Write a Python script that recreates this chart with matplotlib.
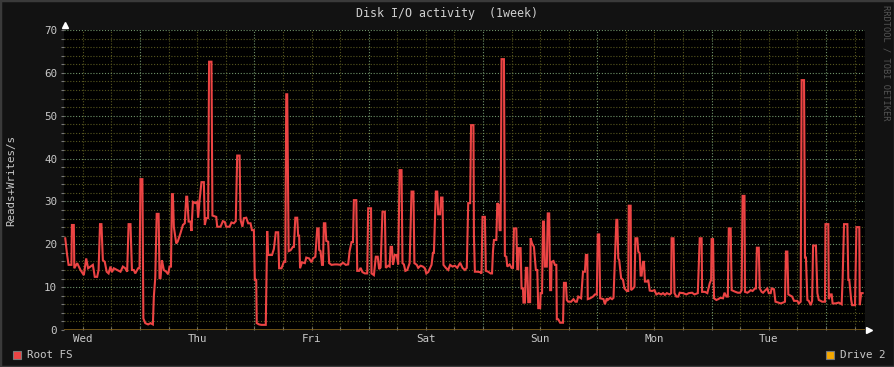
import matplotlib
matplotlib.use("Agg")
import matplotlib.pyplot as plt
from matplotlib.patches import Rectangle

# Disk I/O, Root FS, hours counted from Wed 00:00
hours = [
    8.3, 8.7, 9.0, 9.6, 9.7, 10.1, 10.2, 10.8, 11.5, 12.2, 12.7, 13.1, 13.6, 14.1, 14.5, 15.0,
    15.3, 15.6, 15.9, 16.2, 16.6, 17.0, 17.4, 17.8, 18.1, 18.5, 19.2, 19.9, 20.4, 20.9, 21.3,
    21.6, 22.0, 22.3, 22.7, 23.0, 23.6, 23.9, 24.1, 24.5, 24.7, 25.1, 25.7, 26.2, 26.7, 26.9,
    27.2, 27.5, 27.9, 28.1, 28.3, 28.6, 29.0, 29.5, 29.9, 30.2, 30.5, 30.7, 30.9, 31.1, 31.6,
    31.9, 32.5, 33.0, 33.4, 33.7, 33.9, 34.2, 34.6, 34.8, 35.1, 35.6, 36.0,
    36.2, 36.5, 36.9, 37.4, 37.6, 37.9, 38.3, 38.5, 39.0, 39.2, 39.7, 40.0, 40.2, 40.9, 41.4,
    41.8, 42.1, 42.8, 43.2, 43.7, 44.1, 44.4, 44.9, 45.1, 45.5, 45.8, 46.3, 46.7, 47.2, 47.5,
    47.9, 48.1, 48.4, 48.5, 49.0, 49.5, 50.4, 50.7, 50.9, 51.7, 52.1, 52.5, 53.0, 53.2, 53.7,
    54.2, 54.5, 54.7, 54.9, 55.2, 55.6, 56.1, 56.3, 56.6, 57.0, 57.2, 57.4, 57.6, 58.0, 58.6,
    58.9, 59.5, 60.0, 60.3, 60.8, 61.2, 61.5, 61.6, 61.9, 62.2, 62.4, 62.6, 62.9, 63.1, 63.5,
    63.7, 64.2, 64.9,
    65.4, 66.1, 66.6, 67.2, 67.7, 68.0, 68.4, 68.7, 68.9, 69.4, 69.6, 70.0, 70.3, 70.7, 71.2,
    71.7, 71.9, 72.5, 72.6, 73.1, 73.5, 73.9, 74.2, 74.5, 74.9, 75.4, 75.6, 76.1, 76.4, 76.6,
    76.9, 77.1, 77.5, 77.9, 78.2, 78.5, 78.9, 79.1, 79.4, 79.7, 80.1, 80.6, 81.0, 81.4, 81.6,
    82.1, 82.4, 82.9, 83.4, 83.8, 84.1, 84.5, 84.9, 85.2, 85.5, 85.7, 86.1, 86.4, 86.6, 87.0,
    87.2, 87.5, 87.7, 88.2, 88.7, 89.1, 89.6, 90.1, 90.6, 91.2, 91.7, 92.2, 92.6, 92.9, 93.3,
    93.5, 94.0, 94.1, 94.3, 94.8, 95.4, 95.7, 95.9, 96.4, 96.6, 97.1, 97.6, 97.9, 98.1, 98.3,
    98.8, 99.0, 99.3, 99.5, 99.7, 99.9, 100.4, 100.6, 100.9, 101.1, 101.6, 102.0, 102.3, 102.5,
    103.0, 103.2, 103.4, 103.5, 103.9, 104.1, 104.4, 104.5, 104.8, 105.0, 105.3, 105.5, 105.9,
    106.0, 106.3, 106.7, 107.1, 107.4, 107.6, 108.0, 108.1, 108.4, 108.6, 108.8, 109.0, 109.4,
    109.6, 109.9, 110.1, 110.3, 110.4, 110.8, 111.1, 111.4, 111.5, 111.8, 112.2, 112.8, 113.0,
    113.4, 113.6, 113.9, 114.5, 115.0, 115.4, 115.7, 116.0, 116.6, 117.0, 117.4, 117.6, 117.9,
    118.0, 118.5, 119.1, 119.5, 119.9, 120.1, 120.4, 120.6, 121.3, 121.6, 122.0,
    122.2, 122.7, 123.1, 123.4, 124.0, 124.2, 124.4, 124.6, 125.0, 125.4, 125.7, 126.2, 126.5,
    126.6, 127.0, 127.1, 127.5, 127.8, 128.0, 128.4, 128.6, 128.9, 129.1, 129.3, 129.6, 129.8,
    130.0, 130.4, 130.7, 131.0, 131.5, 132.0, 132.4, 132.9, 133.4, 133.8, 134.2, 134.6, 135.2,
    135.5, 135.6, 136.0, 136.2, 136.6, 137.0, 137.3, 138.0, 138.7, 139.2, 139.9, 140.4, 141.1,
    141.5, 141.9, 142.0, 142.6, 143.1, 143.6, 143.9, 144.0, 144.3, 144.5, 145.0, 145.4, 145.8,
    146.4, 146.7, 147.1, 147.4, 147.6, 148.0, 148.2, 148.6, 149.0, 149.5, 150.0, 150.3, 150.5,
    150.9, 151.0, 151.5, 151.8, 152.2, 152.6, 153.1, 153.3, 153.5, 153.9, 154.1, 154.5, 154.8,
    155.3, 155.7, 156.0, 156.4, 156.6, 157.1, 157.4, 158.0, 158.5, 159.0, 159.4, 159.6, 159.9,
    160.1, 160.6, 160.9, 161.3, 162.0, 162.3, 162.7, 162.9, 163.4, 163.6, 163.8, 164.1, 164.4,
    164.8, 165.1, 165.3, 165.9, 166.2, 166.5, 166.9, 167.2, 167.8, 167.9, 168.5, 168.6, 168.9,
    169.2, 169.4, 170.0, 170.7, 171.3, 171.5, 171.8, 172.5, 172.7, 172.9, 173.3, 173.5, 174.1,
    174.4, 175.0, 175.1, 175.4, 175.7,
]
root_fs = [
    21.4, 17.5, 15.2, 15.2, 24.5, 24.5, 14.4, 15.6, 14.0, 12.8, 16.7, 14.4, 14.8, 15.2, 12.4, 12.4,
    14.0, 24.7, 24.7, 16.3, 15.9, 13.6, 13.2, 14.8, 13.5, 14.4, 14.0, 13.6, 14.8, 14.4, 13.6,
    24.7, 24.7, 14.0, 14.0, 13.2, 14.4, 14.4, 35.2, 35.2, 2.7, 1.6, 1.3, 1.6, 1.3, 7.8,
    12.2, 27.1, 27.1, 12.1, 12.1, 16.3, 14.0, 13.6, 13.0, 14.8, 14.8, 31.7, 31.7, 24.1, 20.2,
    20.6, 22.6, 24.5, 24.9, 31.1, 31.1, 25.3, 25.3, 23.1, 29.9, 29.6, 29.9,
    26.2, 30.3, 34.5, 34.5, 24.5, 26.1, 26.1, 62.6, 62.6, 26.7, 26.5, 26.4, 24.1, 24.1, 25.4,
    25.2, 24.1, 24.1, 25.1, 24.9, 25.4, 40.7, 40.7, 25.7, 24.1, 26.1, 26.2, 24.9, 24.9, 23.3,
    23.3, 11.7, 11.7, 1.6, 1.3, 1.2, 1.2, 23.1, 17.5, 17.5, 18.9, 22.8, 22.8, 14.4, 14.4,
    15.9, 15.9, 55.0, 55.0, 18.4, 18.6, 19.4, 19.4, 26.2, 26.2, 22.0, 22.0, 14.4, 15.8, 15.6,
    16.9, 16.7, 15.8, 16.7, 17.1, 23.7, 23.7, 18.7, 18.4, 15.2, 15.2, 24.9, 24.9, 20.8, 20.6,
    15.6, 15.2, 15.3,
    15.3, 15.2, 15.7, 15.2, 15.3, 18.4, 20.5, 20.5, 30.3, 30.3, 13.8, 13.8, 14.5, 13.5, 13.2,
    13.2, 28.4, 28.4, 13.2, 12.8, 17.1, 17.1, 14.2, 14.6, 27.6, 27.6, 14.5, 15.0, 14.8, 19.4,
    19.4, 15.2, 17.5, 17.5, 15.3, 37.3, 37.3, 15.6, 15.3, 13.8, 14.0, 15.6, 32.3, 32.3, 15.6,
    15.2, 14.5, 15.0, 14.8, 14.4, 13.2, 13.5, 14.5, 15.2, 18.0, 18.0, 32.3, 32.3, 27.0, 27.0,
    30.9, 30.9, 15.2, 14.5, 14.0, 15.2, 14.8, 15.0, 14.5, 15.7, 14.5, 14.0, 14.5, 29.6, 29.6,
    47.8, 47.8, 22.0, 13.6, 13.6, 13.5, 13.2, 26.4, 26.4, 13.8, 13.6, 13.2, 13.2, 18.4, 21.0,
    21.0, 29.6, 29.2, 23.3, 23.3, 63.2, 63.2, 17.3, 17.1, 14.8, 15.3, 14.5, 14.5, 23.7,
    23.7, 14.2, 14.2, 19.1, 19.1, 9.7, 9.7, 6.4, 6.4, 14.5, 14.5, 6.5, 6.5,
    21.4, 20.2, 19.4, 14.0, 14.0, 5.1, 5.1, 8.6, 8.6, 25.3, 25.3, 14.8, 14.8,
    27.2, 27.2, 9.3, 9.3, 15.9, 16.1, 15.2, 15.2, 2.5, 2.5, 1.7, 1.7, 11.0,
    11.0, 7.0, 6.6, 6.6, 7.2, 6.6, 6.6, 7.8, 7.4, 13.6, 13.6, 17.5, 17.5,
    7.2, 7.4, 7.8, 8.3, 8.3, 22.3, 22.3, 7.4, 7.2, 6.0, 7.4,
    7.0, 7.5, 7.2, 7.5, 25.7, 25.7, 16.7, 16.3, 12.1, 11.7, 9.7, 9.1, 9.1,
    29.0, 29.0, 9.3, 9.7, 10.1, 21.4, 21.4, 18.3, 17.9, 12.7, 12.7, 15.9, 15.9,
    11.3, 11.3, 11.7, 9.2, 9.1, 9.3, 8.3, 8.6, 8.3, 8.6, 8.2, 8.6, 8.3,
    8.6, 21.4, 21.4, 8.6, 7.8, 7.8, 8.7, 8.6, 8.3, 8.6, 8.7, 8.3, 8.6,
    21.4, 21.4, 8.9, 8.9, 8.6, 10.9, 11.7, 21.2, 21.2, 7.4, 7.0, 7.2, 7.5,
    7.4, 8.7, 7.8, 7.8, 23.7, 23.7, 9.3, 9.1, 8.9, 8.7, 8.7, 9.3, 31.3,
    31.3, 8.9, 8.7, 8.9, 9.3, 9.1, 9.7, 9.7, 19.2, 19.2, 9.7, 8.9, 8.7,
    9.3, 9.7, 8.6, 8.6, 9.7, 9.5, 6.6, 6.4, 6.2, 6.4, 6.6, 18.3, 18.3,
    8.3, 8.0, 7.8, 6.8, 6.8, 6.2, 6.6, 58.3, 58.3, 16.9, 16.9, 7.0, 6.8,
    5.8, 6.8, 19.7, 19.7, 8.6, 7.0, 6.8, 6.6, 6.6, 24.7, 24.7, 7.2, 8.3,
    8.3, 6.2, 6.2, 6.4, 6.0, 11.9, 24.7, 24.7, 11.7, 11.7, 7.0, 5.8, 5.8,
    24.0, 24.0, 5.8, 8.6, 8.6,
]
day_labels = ["Wed", "Thu", "Fri", "Sat", "Sun", "Mon", "Tue"]

bg = "#121212"
fig = plt.figure(figsize=(8.95, 3.67), dpi=100, facecolor=bg)
ax = fig.add_axes([64 / 895, 1 - 330 / 367, 801 / 895, 300 / 367])
ax.set_facecolor("#000000")

mono = "DejaVu Sans Mono"
txt = "#c8c8c8"

# grid
minor_c = "#56561f"
major_c = "#6f936a"
dots = (0, (1, 1.6))
for h in range(12, 177, 6):
    if h % 24 == 0:
        continue
    ax.axvline(h, color=minor_c, lw=0.8, ls=dots, zorder=1)
for v in range(2, 71, 2):
    if v % 10 == 0:
        continue
    ax.axhline(v, color=minor_c, lw=0.8, ls=dots, zorder=1)
for h in range(24, 177, 24):
    ax.axvline(h, color=major_c, lw=0.8, ls=dots, zorder=1)
for v in range(10, 71, 10):
    ax.axhline(v, color=major_c, lw=0.8, ls=dots, zorder=1)

ax.plot(hours, root_fs, color="#ec4444", lw=1.5, zorder=3, solid_joinstyle="miter")
ax.axhline(0, color="#80601a", lw=1.2, zorder=4)

ax.set_xlim(8.04, 176.2)
ax.set_ylim(0, 70)
for s in ax.spines.values():
    s.set_visible(False)

ax.set_yticks(range(0, 71, 10))
ax.set_yticks(range(0, 71, 2), minor=True)
ax.set_xticks([12 + 24 * i for i in range(7)])
ax.set_xticklabels(day_labels)
ax.set_xticks(range(12, 177, 6), minor=True)
ax.tick_params(axis="both", which="both", colors="#777777", length=2, width=0.8,
               labelcolor=txt, labelsize=7.8)
ax.tick_params(axis="x", which="both", direction="in", pad=3)
ax.tick_params(axis="y", which="both", pad=3)
for lab in ax.get_xticklabels() + ax.get_yticklabels():
    lab.set_family(mono)

# axis arrows
ax.plot([0.0015], [1.017], marker="^", ms=5, color="white", transform=ax.transAxes, clip_on=False)
ax.plot([1.005], [0.0], marker=">", ms=5, color="white", transform=ax.transAxes, clip_on=False)

fig.text(447 / 895, 1 - 13 / 367, "Disk I/O activity  (1week)", ha="center", va="center",
         color="#d0d0d0", family=mono, fontsize=8.4)
fig.text(11 / 895, 1 - 180 / 367, "Reads+Writes/s", rotation=90, ha="center", va="center",
         color=txt, family=mono, fontsize=7.8)
fig.text(886 / 895, 1 - 5 / 367, "RRDTOOL / TOBI OETIKER", rotation=270, ha="center", va="top",
         color="#555555", family=mono, fontsize=6.2)

# legend
fig.patches.append(Rectangle((13 / 895, 1 - 359 / 367), 8 / 895, 8 / 367, transform=fig.transFigure,
                             facecolor="#ec4444", edgecolor="#777777", lw=0.8))
fig.text(27 / 895, 1 - 355 / 367, "Root FS", ha="left", va="center", color=txt, family=mono,
         fontsize=7.8)
fig.patches.append(Rectangle((826 / 895, 1 - 359 / 367), 8 / 895, 8 / 367, transform=fig.transFigure,
                             facecolor="#f5a800", edgecolor="#777777", lw=0.8))
fig.text(840 / 895, 1 - 355 / 367, "Drive 2", ha="left", va="center", color=txt, family=mono,
         fontsize=7.8)

# outer border
fig.patches.append(Rectangle((0, 0), 1, 1, transform=fig.transFigure, fill=False,
                             edgecolor="#3a3a3a", lw=2.5))

fig.savefig("out.png", dpi=100, facecolor=bg)
